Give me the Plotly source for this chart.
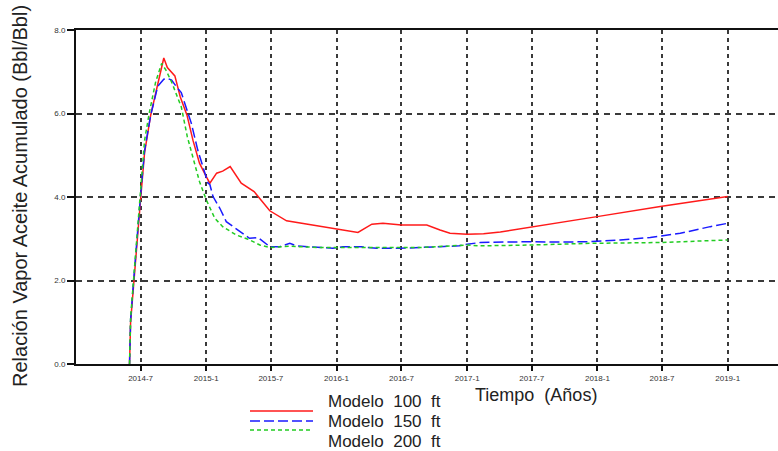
import plotly.graph_objects as go

# Cumulative steam-oil ratio (Bbl/Bbl) per model
red_dates = ["2014-05-31", "2014-06-03", "2014-06-12", "2014-06-19", "2014-06-26", "2014-07-01",
             "2014-07-12", "2014-07-29", "2014-08-18", "2014-09-04", "2014-09-14", "2014-10-05",
             "2014-10-20", "2014-11-08", "2014-11-25", "2014-12-13", "2015-01-01", "2015-01-11",
             "2015-01-30", "2015-02-16", "2015-03-09", "2015-04-09", "2015-05-15", "2015-06-28",
             "2015-08-14", "2015-10-09", "2016-01-01", "2016-03-01", "2016-04-09", "2016-05-10",
             "2016-07-01", "2016-09-10", "2016-10-17", "2016-11-14", "2017-01-01", "2017-02-16",
             "2017-04-04", "2017-06-27", "2017-12-31", "2018-06-26", "2019-01-01"]
red_vals = [0.0, 1.0, 1.95, 2.75, 3.55, 3.95,
            5.05, 5.95, 6.7, 7.33, 7.1, 6.9,
            6.4, 5.96, 5.35, 4.81, 4.49, 4.33,
            4.57, 4.62, 4.73, 4.33, 4.13, 3.67,
            3.43, 3.35, 3.22, 3.15, 3.35, 3.37,
            3.33, 3.33, 3.21, 3.13, 3.11, 3.12,
            3.16, 3.27, 3.53, 3.77, 4.01]

blue_dates = ["2014-05-31", "2014-06-03", "2014-06-12", "2014-06-19", "2014-06-26", "2014-07-01",
              "2014-07-12", "2014-07-29", "2014-08-18", "2014-09-04", "2014-09-15", "2014-09-26",
              "2014-10-13", "2014-10-23", "2014-11-20", "2014-12-08", "2015-01-06", "2015-01-11",
              "2015-01-20", "2015-02-08", "2015-02-26", "2015-04-04", "2015-05-02", "2015-05-26",
              "2015-06-14", "2015-06-28", "2015-07-26", "2015-08-23", "2015-09-11", "2015-11-06",
              "2015-12-22", "2016-01-19", "2016-03-10", "2016-04-23", "2016-06-27", "2016-10-17",
              "2016-12-10", "2017-01-01", "2017-02-07", "2017-06-27", "2017-09-19", "2017-12-12",
              "2018-03-06", "2018-05-29", "2018-08-21", "2018-11-13", "2019-01-01"]
blue_vals = [0.0, 1.05, 2.05, 2.85, 3.65, 4.05,
             5.1, 5.95, 6.65, 6.82, 6.84, 6.8,
             6.6, 6.5, 5.77, 5.13, 4.33, 4.3,
             4.01, 3.73, 3.41, 3.17, 3.01, 3.03,
             2.89, 2.81, 2.81, 2.89, 2.83, 2.79,
             2.77, 2.81, 2.81, 2.77, 2.77, 2.81,
             2.83, 2.87, 2.91, 2.93, 2.92, 2.93,
             2.97, 3.03, 3.13, 3.29, 3.37]

green_dates = ["2014-05-31", "2014-06-03", "2014-06-12", "2014-06-19", "2014-06-26", "2014-07-01",
               "2014-07-12", "2014-07-25", "2014-08-12", "2014-08-29", "2014-09-10", "2014-09-26",
               "2014-10-23", "2014-11-09", "2014-12-08", "2014-12-13", "2015-01-01", "2015-01-25",
               "2015-02-16", "2015-03-26", "2015-04-28", "2015-05-31", "2015-06-28", "2015-08-23",
               "2015-11-15", "2016-05-02", "2016-08-22", "2017-01-01", "2017-02-07", "2017-06-27",
               "2017-12-12", "2018-06-26", "2019-01-01"]
green_vals = [0.0, 1.1, 2.1, 2.9, 3.75, 4.2,
              5.35, 6.0, 6.75, 7.2, 7.04, 6.75,
              6.16, 5.44, 4.57, 4.37, 3.93, 3.49,
              3.29, 3.09, 2.99, 2.85, 2.79, 2.82,
              2.79, 2.78, 2.79, 2.85, 2.83, 2.85,
              2.89, 2.91, 2.97]

series_names = ["Modelo  100  ft", "Modelo  150  ft", "Modelo  200  ft"]

x_tick_vals = ["2014-07-01", "2015-01-01", "2015-07-01", "2016-01-01", "2016-07-01",
               "2017-01-01", "2017-07-01", "2018-01-01", "2018-07-01", "2019-01-01"]
x_tick_text = ["2014-7", "2015-1", "2015-7", "2016-1", "2016-7",
               "2017-1", "2017-7", "2018-1", "2018-7", "2019-1"]
y_tick_vals = [0, 2, 4, 6, 8]
y_tick_text = ["0.0", "2.0", "4.0", "6.0", "8.0"]

FONT = "Liberation Sans, Arial, sans-serif"
styles = [
    dict(color="#ff1a1a", width=1.5, dash="solid"),
    dict(color="#1a1aff", width=1.5, dash="10px,4px"),
    dict(color="#22cc22", width=1.5, dash="4px,3px"),
]

fig = go.Figure()
for dates, vals, name, st in zip([red_dates, blue_dates, green_dates],
                                 [red_vals, blue_vals, green_vals],
                                 series_names, styles):
    fig.add_trace(go.Scatter(x=dates, y=vals, mode="lines", name=name,
                             line=st, showlegend=False))

fig.update_layout(
    width=778, height=451,
    margin=dict(l=76, r=0, t=30, b=87),
    paper_bgcolor="white", plot_bgcolor="white",
    font=dict(family=FONT, color="#222"),
)

fig.update_xaxes(
    type="date", range=["2014-01-01", "2019-05-22"],
    tickvals=x_tick_vals, ticktext=x_tick_text,
    tickfont=dict(size=8, color="#333"),
    ticks="outside", ticklen=5, tickwidth=1.5, tickcolor="#111",
    showline=True, linecolor="#111", linewidth=2, mirror=True,
    showgrid=True, gridcolor="#3a3a3a", gridwidth=2, griddash="4px,4px",
    zeroline=False,
)
fig.update_yaxes(
    range=[0, 8], tickvals=y_tick_vals, ticktext=y_tick_text,
    tickfont=dict(size=8, color="#333"),
    ticks="outside", ticklen=7, tickwidth=1.5, tickcolor="#111",
    showline=True, linecolor="#111", linewidth=2,
    showgrid=True, gridcolor="#3a3a3a", gridwidth=2, griddash="6px,5px",
    zeroline=False,
)

def px_x(px):
    return (px - 76) / 702.0

def px_y(py):
    return (364 - py) / 334.0

# Axis titles
fig.add_annotation(text="Relación Vapor Aceite Acumulado (Bbl/Bbl)", textangle=-90,
                   xref="paper", yref="paper", x=px_x(20), y=px_y(196),
                   xanchor="center", yanchor="middle", showarrow=False,
                   font=dict(size=20, color="#222", family=FONT))
fig.add_annotation(text="Tiempo  (Años)", xref="paper", yref="paper",
                   x=px_x(536), y=px_y(395), xanchor="center", yanchor="middle",
                   showarrow=False, font=dict(size=18, color="#222", family=FONT))

# Legend keys and labels
key_y = [411, 421, 430]
label_y = [402, 421, 441]
for st, ky, ly, name in zip(styles, key_y, label_y, series_names):
    fig.add_shape(type="line", xref="paper", yref="paper",
                  x0=px_x(250), x1=px_x(313), y0=px_y(ky), y1=px_y(ky),
                  line=dict(color=st["color"], width=st["width"], dash=st["dash"]))
    fig.add_annotation(text=name, xref="paper", yref="paper", x=px_x(326), y=px_y(ly),
                       xanchor="left", yanchor="middle", showarrow=False,
                       font=dict(size=17, color="#222", family=FONT))

fig.write_html("out.html")
